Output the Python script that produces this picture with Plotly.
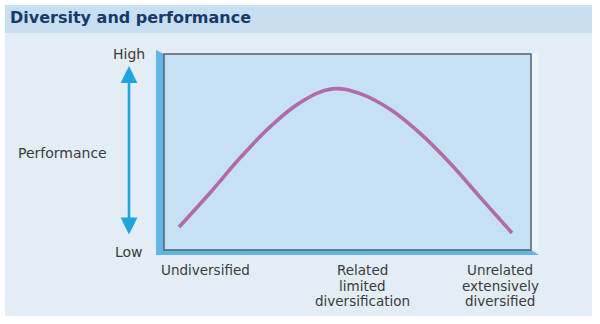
import plotly.graph_objects as go

# ---- data (abstract 0-10 scales) ----
diversity = [0.41, 1.25, 2.07, 2.89, 3.71, 4.58, 5.34, 6.16, 6.98, 7.79, 8.61, 9.48]
performance = [1.17, 2.91, 4.69, 6.28, 7.52, 8.22, 7.98, 7.18, 5.95, 4.44, 2.70, 0.87]
category_pos = [1.12, 5.40, 9.16]
category_labels = [["Undiversified"],
                   ["Related", "limited", "diversification"],
                   ["Unrelated", "extensively", "diversified"]]
title_text = "Diversity and performance"
y_label = "Performance"
y_high, y_low = "High", "Low"

W, H = 600, 324
L, R, T, B = 164, 531, 54, 250  # plot box in pixels


def px(x):
    return (x - L) / (R - L)


def py(y):
    return (B - y) / (B - T)


TEXT = "#3b3b3b"
FONT = "DejaVu Sans"

fig = go.Figure()
fig.add_trace(go.Scatter(
    x=diversity, y=performance, mode="lines",
    line=dict(color="#b26aa8", width=3.6, shape="spline", smoothing=1.1),
    hoverinfo="skip", showlegend=False))

shapes = []
# panel background
shapes.append(dict(type="rect", xref="paper", yref="paper", layer="below",
                   x0=px(5), x1=px(592), y0=py(316), y1=py(5),
                   fillcolor="#e3edf6", line=dict(width=0)))
# title bar
shapes.append(dict(type="rect", xref="paper", yref="paper", layer="below",
                   x0=px(5), x1=px(592), y0=py(33), y1=py(5),
                   fillcolor="#c8def1", line=dict(width=0)))
# light right face
shapes.append(dict(type="path", xref="paper", yref="paper", layer="below",
                   path=f"M {px(531)},{py(54)} L {px(539)},{py(50)} L {px(539)},{py(252)} L {px(531)},{py(250)} Z",
                   fillcolor="#ecf4fa", line=dict(width=0)))
# 3D blue strip (left + bottom)
shapes.append(dict(type="path", xref="paper", yref="paper", layer="below",
                   path=(f"M {px(156)},{py(50)} L {px(164)},{py(54)} L {px(164)},{py(250)} "
                         f"L {px(531)},{py(250)} L {px(539)},{py(255)} L {px(156)},{py(255)} Z"),
                   fillcolor="#62b4e6", line=dict(width=0)))
# box fill
shapes.append(dict(type="rect", xref="paper", yref="paper", layer="below",
                   x0=0, x1=1, y0=0, y1=1,
                   fillcolor="#c6e1f4", line=dict(width=0)))
# box border
shapes.append(dict(type="rect", xref="paper", yref="paper", layer="above",
                   x0=0, x1=1, y0=0, y1=1,
                   fillcolor="rgba(0,0,0,0)", line=dict(color="#56606c", width=1.5)))

annotations = []
annotations.append(dict(xref="paper", yref="paper", x=px(8), y=py(17),
                        xanchor="left", yanchor="middle", showarrow=False,
                        text=f"<b>{title_text}</b>",
                        font=dict(family=FONT, size=16, color="#163a6c")))
annotations.append(dict(xref="paper", yref="paper", x=px(129), y=py(54),
                        xanchor="center", yanchor="middle", showarrow=False,
                        text=y_high, font=dict(family=FONT, size=14, color=TEXT)))
annotations.append(dict(xref="paper", yref="paper", x=px(129), y=py(252),
                        xanchor="center", yanchor="middle", showarrow=False,
                        text=y_low, font=dict(family=FONT, size=14, color=TEXT)))
annotations.append(dict(xref="paper", yref="paper", x=px(62), y=py(153),
                        xanchor="center", yanchor="middle", showarrow=False,
                        text=y_label, font=dict(family=FONT, size=14, color=TEXT)))
# double-headed arrow
annotations.append(dict(xref="paper", yref="paper", x=px(129), y=py(66),
                        ax=0, ay=170, axref="pixel", ayref="pixel",
                        text="", showarrow=True, arrowside="end+start",
                        arrowhead=2, arrowsize=1.3, arrowwidth=2.6,
                        arrowcolor="#1fa4dd", standoff=0, startstandoff=0))
# category labels, one annotation per line
for pos, lines in zip(category_pos, category_labels):
    for i, line in enumerate(lines):
        annotations.append(dict(xref="x", yref="paper", x=pos, y=py(270 + i * 15.5),
                                xanchor="center", yanchor="middle", showarrow=False,
                                text=line, font=dict(family=FONT, size=13.5, color=TEXT)))

fig.update_layout(
    width=W, height=H,
    margin=dict(l=L, r=W - R, t=T, b=H - B, pad=0),
    paper_bgcolor="white", plot_bgcolor="#c6e1f4",
    xaxis=dict(range=[0, 10], showgrid=False, zeroline=False, showticklabels=False,
               ticks="", showline=False, fixedrange=True),
    yaxis=dict(range=[0, 10], showgrid=False, zeroline=False, showticklabels=False,
               ticks="", showline=False, fixedrange=True),
    shapes=shapes, annotations=annotations, showlegend=False,
)

fig.write_html("out.html", config={"displayModeBar": False})
